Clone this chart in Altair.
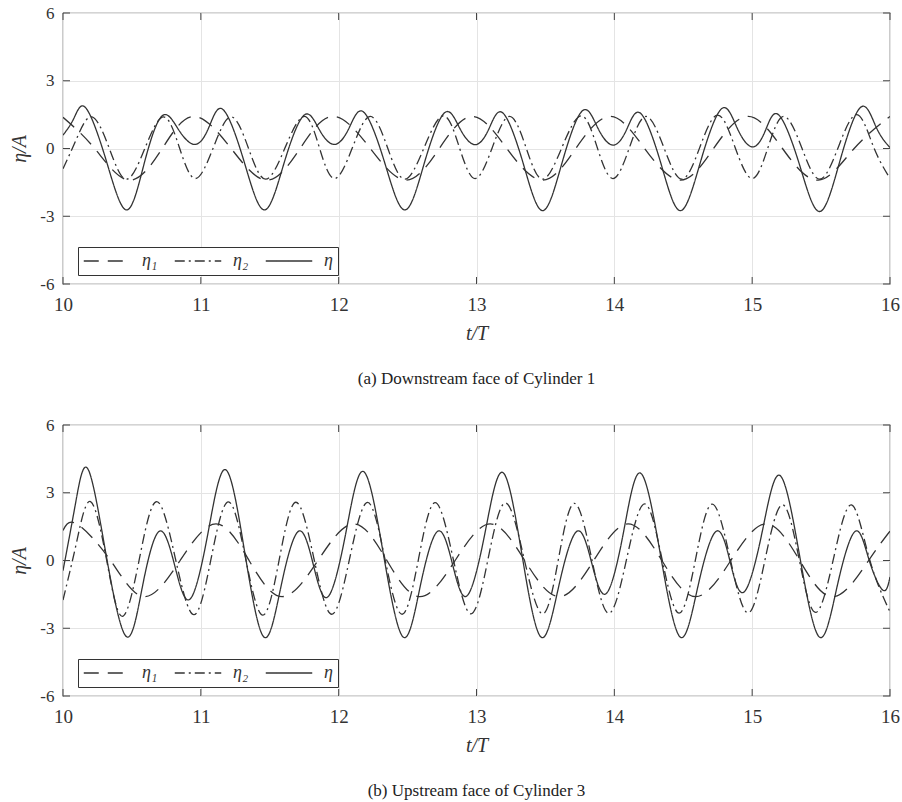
import altair as alt
import pandas as pd

# ---------------- data ----------------
X_TICKS = [10, 11, 12, 13, 14, 15, 16]
Y_TICKS = [-6, -3, 0, 3, 6]
LABELS = ["η₁", "η₂", "η"]

# (a) Downstream face of Cylinder 1
a_t1 = [10.00, 10.23, 10.48, 10.72, 10.95, 11.22, 11.48, 11.72, 11.96, 12.23, 12.49, 12.73, 12.97,
        13.22, 13.48, 13.72, 13.97, 14.22, 14.48, 14.72, 14.97, 15.22, 15.48, 15.74, 16.00]
a_v1 = [1.38, 0.0, -1.40, 0.0, 1.42, 0.0, -1.40, 0.0, 1.42, 0.0, -1.40, 0.0, 1.42,
        0.0, -1.40, 0.0, 1.42, 0.0, -1.40, 0.0, 1.42, 0.0, -1.40, 0.0, 1.42]

a_t2 = [10.00, 10.10, 10.21, 10.335, 10.46, 10.595, 10.73, 10.845, 10.96, 11.09, 11.22, 11.345,
        11.47, 11.61, 11.75, 11.86, 11.97, 12.10, 12.23, 12.355, 12.48, 12.62, 12.76, 12.875,
        12.99, 13.115, 13.24, 13.36, 13.48, 13.62, 13.76, 13.875, 13.99, 14.11, 14.23, 14.36,
        14.49, 14.62, 14.75, 14.875, 15.00, 15.115, 15.23, 15.36, 15.49, 15.625, 15.76, 15.88, 16.00]
a_v2 = [-0.90, 0.45, 1.40, 0.02, -1.36, 0.02, 1.40, 0.03, -1.33, 0.03, 1.40, 0.02,
        -1.36, 0.02, 1.42, 0.04, -1.33, 0.04, 1.42, 0.03, -1.36, 0.04, 1.45, 0.06,
        -1.33, 0.05, 1.42, 0.03, -1.36, 0.05, 1.45, 0.06, -1.33, 0.05, 1.42, 0.03,
        -1.36, 0.05, 1.48, 0.07, -1.33, 0.05, 1.42, 0.03, -1.36, 0.06, 1.50, 0.08, -1.33]

a_t = [10.00, 10.08, 10.165, 10.31, 10.46, 10.59, 10.72, 10.84, 10.96, 11.06, 11.16, 11.31,
       11.46, 11.605, 11.75, 11.86, 11.97, 12.075, 12.18, 12.33, 12.48, 12.625, 12.77, 12.88,
       12.99, 13.09, 13.19, 13.335, 13.48, 13.625, 13.77, 13.88, 13.99, 14.09, 14.19, 14.335,
       14.48, 14.63, 14.78, 14.89, 15.00, 15.095, 15.19, 15.34, 15.49, 15.64, 15.79, 15.90, 16.00]
a_v = [0.59, 1.35, 1.80, -0.46, -2.72, -0.64, 1.45, 0.82, 0.18, 0.96, 1.73, -0.50,
       -2.72, -0.62, 1.48, 0.83, 0.18, 0.90, 1.62, -0.55, -2.72, -0.57, 1.59, 0.88,
       0.17, 0.87, 1.58, -0.58, -2.75, -0.54, 1.68, 0.91, 0.15, 0.85, 1.56, -0.60,
       -2.75, -0.49, 1.77, 0.92, 0.07, 0.78, 1.50, -0.65, -2.79, -0.48, 1.84, 0.94, 0.04]

# (b) Upstream face of Cylinder 3
b_t1 = [10.00, 10.10, 10.345, 10.59, 10.85, 11.11, 11.35, 11.59, 11.85, 12.11, 12.35, 12.59, 12.845,
        13.10, 13.35, 13.60, 13.85, 14.10, 14.345, 14.59, 14.845, 15.10, 15.345, 15.59, 15.845, 16.00]
b_v1 = [1.33, 1.62, 0.0, -1.60, 0.0, 1.62, 0.0, -1.60, 0.0, 1.62, 0.0, -1.60, 0.0,
        1.62, 0.0, -1.60, 0.0, 1.62, 0.0, -1.60, 0.0, 1.62, 0.0, -1.60, 0.0, 1.30]

b_t2 = [10.00, 10.10, 10.20, 10.315, 10.43, 10.555, 10.68, 10.815, 10.95, 11.075, 11.20, 11.325,
        11.45, 11.57, 11.69, 11.82, 11.95, 12.08, 12.21, 12.335, 12.46, 12.58, 12.70, 12.83,
        12.96, 13.085, 13.21, 13.345, 13.48, 13.595, 13.71, 13.835, 13.96, 14.09, 14.22, 14.345,
        14.47, 14.59, 14.71, 14.84, 14.97, 15.095, 15.22, 15.34, 15.46, 15.59, 15.72, 15.85, 16.00]
b_v2 = [-1.75, 0.85, 2.61, 0.07, -2.47, 0.10, 2.61, 0.10, -2.40, 0.10, 2.60, 0.09,
        -2.42, 0.08, 2.58, 0.10, -2.38, 0.10, 2.57, 0.09, -2.38, 0.09, 2.56, 0.10,
        -2.36, 0.10, 2.55, 0.09, -2.36, 0.08, 2.53, 0.10, -2.34, 0.09, 2.51, 0.09,
        -2.33, 0.08, 2.50, 0.09, -2.32, 0.08, 2.47, 0.08, -2.30, 0.08, 2.46, 0.09, -2.28]

b_t = [10.00, 10.09, 10.18, 10.31, 10.46, 10.58, 10.70, 10.81, 10.92, 11.05, 11.18, 11.32,
       11.46, 11.585, 11.71, 11.815, 11.92, 12.05, 12.18, 12.325, 12.47, 12.595, 12.72, 12.825,
       12.93, 13.06, 13.19, 13.33, 13.47, 13.60, 13.73, 13.835, 13.94, 14.065, 14.19, 14.335,
       14.48, 14.61, 14.74, 14.84, 14.94, 15.07, 15.20, 15.345, 15.49, 15.62, 15.75, 15.85, 15.95, 16.00]
b_v = [-0.45, 2.50, 4.06, 0.35, -3.37, -1.04, 1.30, -0.21, -1.72, 1.15, 4.02, 0.31,
       -3.40, -1.05, 1.30, -0.16, -1.62, 1.16, 3.94, 0.27, -3.40, -1.05, 1.30, -0.14,
       -1.57, 1.17, 3.90, 0.25, -3.40, -1.05, 1.30, -0.09, -1.47, 1.20, 3.87, 0.24,
       -3.40, -1.05, 1.30, -0.05, -1.40, 1.19, 3.77, 0.19, -3.40, -1.05, 1.30, -0.01, -1.32, -0.73]

CAPTION_A = "(a) Downstream face of Cylinder 1"
CAPTION_B = "(b) Upstream face of Cylinder 3"

# ---------------- chart ----------------
W, H = 827, 271
SERIF = "Liberation Serif"
INK = "#333333"
DASHES = [[15, 9], [10, 4, 2, 4], [1, 0]]
TL = 7  # inner tick length (px)


def panel(series, caption):
    rows = []
    for name, (ts, vs) in zip(LABELS, series):
        for tt, vv in zip(ts, vs):
            rows.append({"t": tt, "v": vv, "s": name})
    df = pd.DataFrame(rows)
    xs = alt.Scale(domain=[10, 16], nice=False, zero=False)
    ys = alt.Scale(domain=[-6, 6], nice=False, zero=False)
    ax = alt.Axis(values=X_TICKS, title="t/T", labelExpr="'' + datum.value",
                  labelFlush=False, labelFont=SERIF, titleFont=SERIF)
    ay = alt.Axis(values=Y_TICKS, title="η/A", labelExpr="'' + datum.value",
                  labelFlush=False, labelFont=SERIF, titleFont=SERIF)

    lines = alt.Chart(df).mark_line(
        color=INK, strokeWidth=1.3, interpolate="natural", clip=True
    ).encode(
        x=alt.X("t:Q", scale=xs, axis=ax),
        y=alt.Y("v:Q", scale=ys, axis=ay),
        strokeDash=alt.StrokeDash(
            "s:N",
            scale=alt.Scale(domain=LABELS, range=DASHES),
            legend=alt.Legend(
                title=None, orient="none", legendX=15, legendY=234,
                direction="horizontal",
                symbolType="M-3,0H3", symbolSize=240,
                symbolOffset=15,
                symbolStrokeWidth=1.3, symbolStrokeColor=INK,
                labelFont=SERIF, labelFontStyle="italic", labelFontSize=18,
                labelColor=INK, strokeColor=INK, fillColor="white",
                padding=5, columnPadding=14, labelOffset=26,
            ),
        ),
        detail="s:N",
    )

    xt = pd.DataFrame({"t": X_TICKS})
    yt = pd.DataFrame({"v": Y_TICKS})
    tick = dict(color="#444444", strokeWidth=1)
    xb = alt.Chart(xt).mark_rule(**tick).encode(
        x=alt.X("t:Q", scale=xs, axis=ax), y=alt.value(H - TL), y2=alt.value(H))
    xtop = alt.Chart(xt).mark_rule(**tick).encode(
        x=alt.X("t:Q", scale=xs, axis=ax), y=alt.value(0), y2=alt.value(TL))
    yl = alt.Chart(yt).mark_rule(**tick).encode(
        y=alt.Y("v:Q", scale=ys, axis=ay), x=alt.value(0), x2=alt.value(TL))
    yr = alt.Chart(yt).mark_rule(**tick).encode(
        y=alt.Y("v:Q", scale=ys, axis=ay), x=alt.value(W - TL), x2=alt.value(W))

    return alt.layer(lines, xb, xtop, yl, yr).properties(
        width=W, height=H,
        title=alt.TitleParams(caption, orient="bottom", anchor="middle", offset=28),
    )


top = panel([(a_t1, a_v1), (a_t2, a_v2), (a_t, a_v)], CAPTION_A)
bottom = panel([(b_t1, b_v1), (b_t2, b_v2), (b_t, b_v)], CAPTION_B)

chart = alt.vconcat(top, bottom, spacing=27).resolve_scale(
    strokeDash="independent"
).resolve_legend(
    strokeDash="independent"
).properties(
    padding={"left": 9, "top": 3, "right": 0, "bottom": 2},
    background="white",
).configure_view(
    stroke="#555555", strokeWidth=1.2
).configure_axis(
    domain=False, ticks=False, grid=True, gridColor="#e4e4e4", gridWidth=1,
    labelFont=SERIF, labelColor=INK, titleFont=SERIF, titleColor=INK,
    titleFontStyle="italic", titleFontWeight="normal",
).configure_axisX(
    labelFontSize=19, labelPadding=11, titleFontSize=20, titlePadding=9,
).configure_axisY(
    labelFontSize=17, labelPadding=9, titleFontSize=20, titlePadding=10,
).configure_title(
    font=SERIF, fontSize=17, fontWeight="normal", color="#222222",
)

chart.save("out.html", embed_options={"renderer": "svg", "actions": False})
